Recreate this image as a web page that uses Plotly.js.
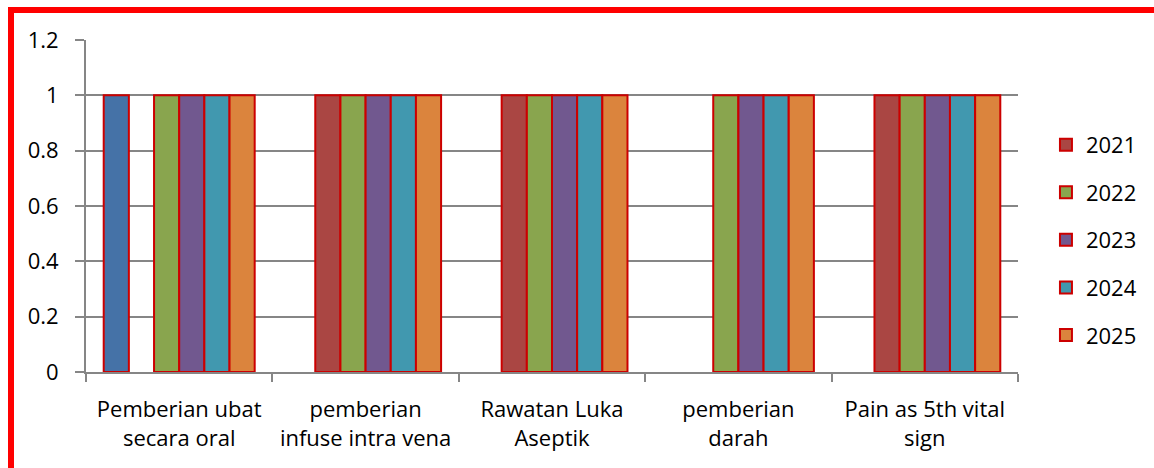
<!DOCTYPE html>
<html>
<head>
<meta charset="utf-8">
<script src="https://cdn.plot.ly/plotly-3.0.1.min.js"></script>
<style>
html,body{margin:0;padding:0;background:#fff;}
#wrap{position:relative;width:1154px;height:468px;overflow:hidden;}
#chart{position:absolute;left:0;top:0;width:1154px;height:468px;}
#frame{position:absolute;left:8px;top:7px;width:1200px;height:500px;border-left:6px solid #ff0000;border-top:6px solid #ff0000;pointer-events:none;}
</style>
</head>
<body>
<div id="wrap"><div id="chart"></div><div id="frame"></div></div>
<script>
const categories = ["Pemberian ubat<br>secara oral", "pemberian<br>infuse intra vena", "Rawatan Luka<br>Aseptik", "pemberian<br>darah", "Pain as 5th vital<br>sign"];
const years = ["2021", "2022", "2023", "2024", "2025"];
// unlabelled first series (blue bar, not in legend)
const vUnlabelled = [1, null, null, null, null];
const v2021 = [null, 1, 1, null, 1];
const v2022 = [1, 1, 1, 1, 1];
const v2023 = [1, 1, 1, 1, 1];
const v2024 = [1, 1, 1, 1, 1];
const v2025 = [1, 1, 1, 1, 1];
const seriesValues = [v2021, v2022, v2023, v2024, v2025];
const seriesColors = ["#AA4643", "#89A54E", "#71588F", "#4198AF", "#DB843D"];
const unlabelledColor = "#4572A7";
const outline = {color: "#CC0000", width: 2};

const traces = [{
  type: "bar", name: "", x: categories, y: vUnlabelled, showlegend: false,
  marker: {color: unlabelledColor, line: outline}, hoverinfo: "none"
}].concat(seriesValues.map((vals, i) => ({
  type: "bar",
  name: years[i],
  x: categories,
  y: vals,
  legendgroup: years[i],
  marker: {color: seriesColors[i], line: outline},
  hoverinfo: "none"
})));

const layout = {
  width: 1154, height: 468,
  margin: {l: 86, r: 136, t: 40, b: 96},
  paper_bgcolor: "#ffffff", plot_bgcolor: "#ffffff",
  font: {family: "Open Sans, sans-serif", size: 22, color: "#000"},
  barmode: "group",
  bargap: 0.19,
  bargroupgap: 0,
  showlegend: true,
  legend: {
    x: 1.03, xanchor: "left", y: 0.398, yanchor: "middle",
    traceorder: "grouped", tracegroupgap: 16,
    font: {size: 22, color: "#000"},
    itemwidth: 30
  },
  xaxis: {
    type: "category",
    showgrid: false,
    showline: true, linecolor: "#868686", linewidth: 2,
    ticks: "outside", tickson: "boundaries", ticklen: 8, tickcolor: "#868686", tickwidth: 2,
    tickfont: {size: 22},
    ticklabelstandoff: 17,
    zeroline: false, fixedrange: true
  },
  yaxis: {
    range: [0, 1.2], dtick: 0.2, tick0: 0,
    showgrid: true, gridcolor: "#868686", gridwidth: 2,
    showline: true, linecolor: "#868686", linewidth: 2,
    ticks: "outside", ticklen: 9, tickcolor: "#868686", tickwidth: 2,
    tickfont: {size: 22},
    ticklabelstandoff: 12,
    zeroline: false, fixedrange: true
  }
};

Plotly.newPlot("chart", traces, layout, {staticPlot: true, displayModeBar: false});
</script>
</body>
</html>
